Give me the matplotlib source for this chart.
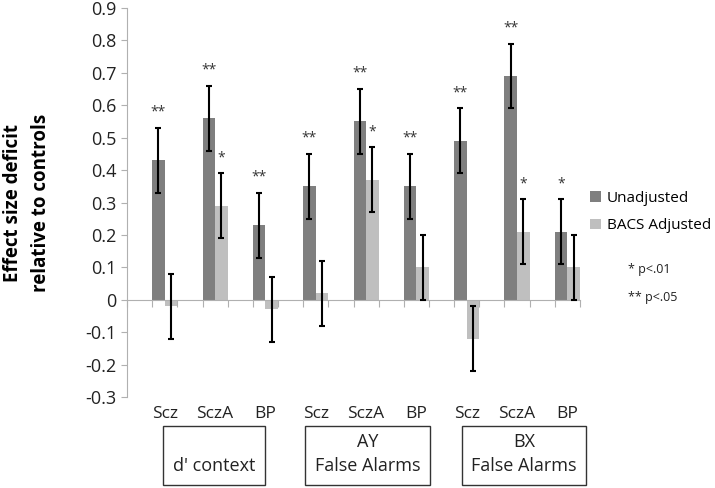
import numpy as np
import matplotlib.pyplot as plt
from matplotlib.patches import Rectangle
import matplotlib.transforms as mtransforms

plt.rcParams['font.family'] = ['Open Sans', 'DejaVu Sans']

groups = ['Scz', 'SczA', 'BP', 'Scz', 'SczA', 'BP', 'Scz', 'SczA', 'BP']
unadjusted = [0.43, 0.56, 0.23, 0.35, 0.55, 0.35, 0.49, 0.69, 0.21]
adjusted = [-0.02, 0.29, -0.03, 0.02, 0.37, 0.10, -0.12, 0.21, 0.10]
err_unadj = [0.10] * 9
err_adj = [0.10] * 9
stars_unadj = ['**', '**', '**', '**', '**', '**', '**', '**', '*']
stars_adj = ['', '*', '', '', '*', '', '', '*', '']
tasks = ["\nd' context", 'AY\nFalse Alarms', 'BX\nFalse Alarms']

fig = plt.figure(figsize=(7.15, 4.88), dpi=100)
ax = fig.add_axes([127/715, 1 - 397/488, (580 - 127)/715, (397 - 8)/488])

x = np.arange(len(groups))
w = 0.25
dark = '#7f7f7f'
light = '#bfbfbf'
ax.bar(x - w/2, unadjusted, w, color=dark, label='Unadjusted', zorder=2)
ax.bar(x + w/2, adjusted, w, color=light, label='BACS Adjusted', zorder=2)
ax.errorbar(x - w/2, unadjusted, yerr=err_unadj, fmt='none', ecolor='black',
            elinewidth=1.5, capsize=2.5, capthick=1.5, zorder=3)
ax.errorbar(x + w/2, adjusted, yerr=err_adj, fmt='none', ecolor='black',
            elinewidth=1.5, capsize=2.5, capthick=1.5, zorder=3)

for i in range(len(groups)):
    if stars_unadj[i]:
        ax.text(x[i] - w/2, unadjusted[i] + err_unadj[i] + 0.025, stars_unadj[i],
                ha='center', va='bottom', fontsize=10, color='#333333')
    if stars_adj[i]:
        ax.text(x[i] + w/2, adjusted[i] + err_adj[i] + 0.025, stars_adj[i],
                ha='center', va='bottom', fontsize=10, color='#333333')

yt = np.round(np.arange(-0.3, 0.91, 0.1), 1)
ax.set_xlim(-0.75, 8.25)
ax.set_ylim(-0.3, 0.9)
ax.set_yticks(yt)
ax.set_yticklabels(['%g' % v for v in yt], fontsize=13, color='#222222')
ax.set_xticks(np.arange(-0.75, 8.26, 0.5))
ax.set_xticklabels([])
for s in ['top', 'right']:
    ax.spines[s].set_visible(False)
ax.spines['left'].set_color('#b0b0b0')
ax.spines['bottom'].set_color('#b0b0b0')
ax.spines['bottom'].set_position(('data', 0))
ax.tick_params(axis='y', colors='#b0b0b0', labelcolor='#222222', length=4, direction='out')
ax.tick_params(axis='x', colors='#b0b0b0', length=5, direction='out')

trans = mtransforms.blended_transform_factory(ax.transData, fig.transFigure)
for i, g in enumerate(groups):
    ax.text(x[i], 1 - 414/488, g, transform=trans, ha='center', va='center',
            fontsize=12.5, color='#222222')

boxes = [(163, 265), (305, 430), (462, 586)]
for (x0, x1), t in zip(boxes, tasks):
    fig.patches.append(Rectangle((x0/715, 1 - 485/488), (x1 - x0)/715, 59/488,
                                 transform=fig.transFigure, fill=False,
                                 edgecolor='#333333', linewidth=1))
    fig.text((x0 + x1)/2/715, 1 - 454/488, t, ha='center', va='center',
             fontsize=13, color='#222222', linespacing=1.45)

ax.legend(loc='upper left', bbox_to_anchor=(590/715, 1 - 191/488),
          bbox_transform=fig.transFigure, frameon=False, fontsize=11,
          handlelength=0.7, handleheight=0.7, handletextpad=0.4,
          labelspacing=0.8, borderpad=0, borderaxespad=0)

fig.text(628/715, 1 - 270/488, '* p<.01', fontsize=9, va='center', color='#222222')
fig.text(628/715, 1 - 297/488, '** p<.05', fontsize=9, va='center', color='#222222')

fig.text(27/715, 1 - 203/488, 'Effect size deficit\nrelative to controls',
         rotation=90, ha='center', va='center', fontsize=13.5, fontweight='bold',
         linespacing=1.5)

fig.savefig('out.png', dpi=100)
